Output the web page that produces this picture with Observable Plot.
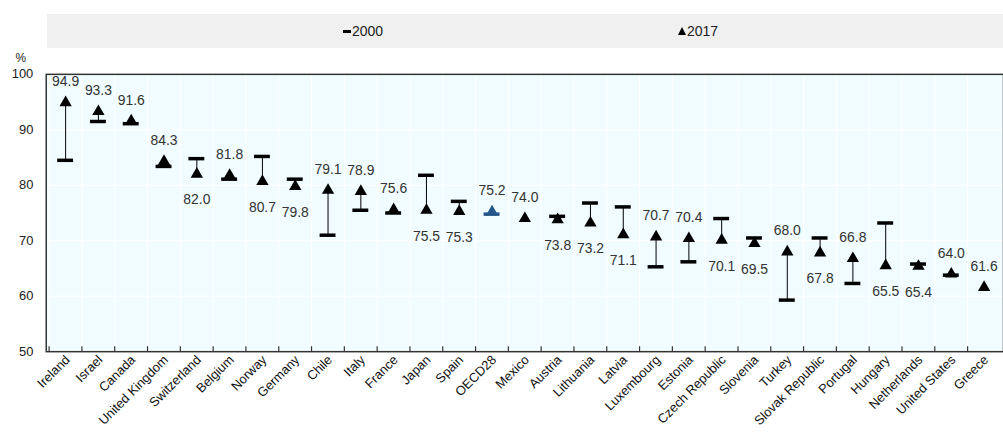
<!DOCTYPE html>
<html>
<head>
<meta charset="utf-8">
<script src="https://cdn.jsdelivr.net/npm/d3@7"></script>
<script src="https://cdn.jsdelivr.net/npm/@observablehq/plot@0.6"></script>
<style>
  html, body { margin: 0; padding: 0; background: #fff; overflow: hidden; width: 1003px; height: 433px; }
  body { font-family: "Liberation Sans", Arial, sans-serif; position: relative; }
  #legend { position: absolute; top: 14px; left: 47px; width: 956px; height: 34px; background: #f0f0f0; }
  .item { position: absolute; top: 0; height: 34px; line-height: 34px; font-size: 14px; color: #222; white-space: nowrap; }
  .bar { display: inline-block; width: 8px; height: 3px; background: #000; vertical-align: middle; margin-right: 1px; position: relative; top: -1px; }
  .tri { display: inline-block; width: 0; height: 0; border-left: 4px solid transparent; border-right: 4px solid transparent; border-bottom: 8px solid #000; vertical-align: middle; margin-right: 1px; position: relative; top: -1px; }
  #chart { position: absolute; top: 48px; left: 0; }
</style>
</head>
<body>
<div id="legend">
  <div class="item" style="left:296px"><span class="bar"></span>2000</div>
  <div class="item" style="left:631px"><span class="tri"></span>2017</div>
</div>
<div id="chart"></div>
<script>
const countries = ["Ireland","Israel","Canada","United Kingdom","Switzerland","Belgium","Norway","Germany","Chile","Italy","France","Japan","Spain","OECD28","Mexico","Austria","Lithuania","Latvia","Luxembourg","Estonia","Czech Republic","Slovenia","Turkey","Slovak Republic","Portugal","Hungary","Netherlands","United States","Greece"];
const values2017 = [94.9,93.3,91.6,84.3,82.0,81.8,80.7,79.8,79.1,78.9,75.6,75.5,75.3,75.2,74.0,73.8,73.2,71.1,70.7,70.4,70.1,69.5,68.0,67.8,66.8,65.5,65.4,64.0,61.6];
const values2000 = [84.5,91.5,91.1,83.4,84.8,81.1,85.2,81.1,71.0,75.5,75.0,81.8,77.1,74.8,null,74.4,76.8,76.1,65.3,66.2,74.0,70.5,59.3,70.5,62.3,73.2,65.8,63.8,null];
const yTicks = [50,60,70,80,90,100];
const gridY = [60,70,80,90];
const highlight = "OECD28";

const data = countries.map((c, i) => ({c, v17: values2017[i], v00: values2000[i]}));
const withBase = data.filter(d => d.v00 != null);
const above = data.filter(d => d.v00 == null || d.v17 >= d.v00);
const below = data.filter(d => d.v00 != null && d.v17 < d.v00);
const col = d => d.c === highlight ? "#24568a" : "#000";

const W = 1009, ML = 46, MR = 0;
const bw = (W - ML - MR) / countries.length;

const chart = Plot.plot({
  width: W,
  height: 385,
  marginLeft: ML,
  marginRight: MR,
  marginTop: 26,
  marginBottom: 80,
  style: {fontFamily: '"Liberation Sans", Arial, sans-serif', background: "transparent", overflow: "visible"},
  x: {type: "band", domain: countries, padding: 0},
  y: {domain: [50, 100]},
  marks: [
    Plot.frame({fill: "#f0fcff"}),
    Plot.ruleY(gridY, {stroke: "#fff", strokeWidth: 1}),
    Plot.ruleX(countries, {x: d => d, dx: -bw / 2, stroke: "#fff", strokeWidth: 1}),
    Plot.ruleX(countries, {x: d => d, dx: -bw / 2, y1: 50, y2: 50.9, stroke: "#333", strokeWidth: 1.2}),
    Plot.axisY({ticks: yTicks, tickSize: 0, tickPadding: 13, fontSize: 13, label: null, fill: "#222"}),
    Plot.text(["%"], {frameAnchor: "top-left", dx: -31, dy: -21, fontSize: 12, fill: "#222"}),
    Plot.axisX({tickSize: 0, tickPadding: 6, dx: 2, tickRotate: -45, fontSize: 13, label: null, fill: "#111"}),
    Plot.ruleX(withBase, {x: "c", y1: "v00", y2: "v17", stroke: col, strokeWidth: 1}),
    Plot.tickY(withBase, {x: "c", y: "v00", stroke: col, strokeWidth: 3.5, insetLeft: 8.5, insetRight: 8.5}),
    Plot.dot(data, {x: "c", y: "v17", symbol: "triangle", r: 4.6, fill: col, stroke: null}),
    Plot.text(above, {x: "c", y: "v17", text: d => d.v17.toFixed(1), dy: -21, fontSize: 14, fill: "#333"}),
    Plot.text(below, {x: "c", y: "v17", text: d => d.v17.toFixed(1), dy: 26, fontSize: 14, fill: "#333"}),
    Plot.frame({stroke: "#333", strokeWidth: 1.5})
  ]
});
document.getElementById("chart").appendChild(chart);
</script>
</body>
</html>
